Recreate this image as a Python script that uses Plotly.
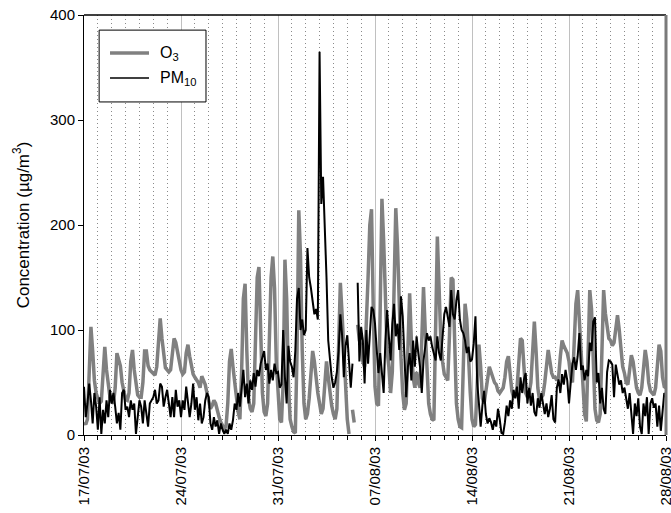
import pandas as pd
import plotly.graph_objects as go

# 3-hourly concentrations (00,03,...,21 h), one row per day, µg/m3
o3_week1 = [
    12, 10, 15, 55, 103, 80, 52, 40,      # 17/07
    34, 30, 32, 60, 84, 62, 45, 36,       # 18/07
    32, 30, 45, 78, 72, 66, 50, 42,       # 19/07
    34, 33, 40, 70, 81, 62, 48, 38,       # 20/07
    36, 36, 50, 80, 80, 66, 62, 60,       # 21/07
    58, 57, 65, 95, 111, 92, 75, 64,      # 22/07
    62, 60, 62, 75, 92, 88, 80, 68,       # 23/07
]
o3_week2 = [
    62, 58, 60, 78, 86, 75, 65, 58,       # 24/07
    55, 52, 50, 45, 56, 52, 48, 40,       # 25/07
    32, 25, 28, 33, 30, 22, 17, 12,       # 26/07
    8, 6, 8, 30, 70, 82, 65, 50,          # 27/07
    40, 22, 15, 60, 130, 144, 80, 35,     # 28/07
    25, 22, 30, 90, 150, 160, 100, 40,    # 29/07
    22, 18, 30, 80, 150, 170, 140, 70,    # 30/07
]
o3_week3 = [
    35, 15, 12, 50, 167, 130, 50, 15,     # 31/07
    8, 3, 2, 80, 214, 170, 80, 30,        # 01/08
    15, 20, 35, 60, 80, 70, 50, 40,       # 02/08
    30, 20, 25, 50, 70, 55, 40, 28,       # 03/08
    20, 15, 25, 80, 145, 115, 86, 45,     # 04/08
    15, 1, None, 24, 12, None, 105, 90,   # 05/08
    84, 70, 65, 100, 150, 200, 215, 120,  # 06/08
]
o3_week4 = [
    46, 30, 28, 120, 225, 185, 120, 80,   # 07/08
    65, 40, 60, 150, 216, 180, 110, 74,   # 08/08
    40, 24, 30, 80, 135, 90, 55, 45,      # 09/08
    60, 50, 45, 90, 141, 100, 60, 30,     # 10/08
    20, 15, 14, 110, 189, 140, 90, 70,    # 11/08
    58, 55, 52, 95, 150, 148, 90, 30,     # 12/08
    15, 8, 7, 60, 125, 110, 70, 40,       # 13/08
]
o3_week5 = [
    15, 8, 10, 45, 86, 65, 35, 30,        # 14/08
    40, 55, 65, 60, 55, 50, 48, 42,       # 15/08
    40, 42, 45, 55, 70, 75, 55, 42,       # 16/08
    36, 38, 45, 75, 92, 90, 60, 40,       # 17/08
    36, 40, 50, 85, 108, 80, 45, 33,      # 18/08
    36, 38, 50, 70, 81, 70, 59, 55,       # 19/08
    55, 52, 55, 75, 90, 85, 81, 78,       # 20/08
]
o3_week6 = [
    70, 55, 50, 85, 125, 138, 110, 85,    # 21/08
    45, 20, 13, 70, 138, 120, 60, 25,     # 22/08
    14, 12, 20, 75, 138, 116, 100, 92,    # 23/08
    90, 85, 88, 100, 114, 100, 81, 65,    # 24/08
    59, 50, 48, 62, 76, 70, 55, 45,       # 25/08
    40, 38, 45, 65, 81, 70, 50, 42,       # 26/08
    40, 38, 45, 70, 86, 80, 55, 46,       # 27/08
    45,                                   # 28/08 00h
]

pm10_week1 = [
    46, 17, 30, 49, 33, 11, 40, 27,
    5, 36, 1, 24, 11, 33, 17, 43,
    30, 40, 27, 11, 21, 5, 40, 43,
    24, 27, 17, 33, 24, 30, 1, 17,
    33, 27, 11, 33, 21, 8, 30, 33,
    36, 43, 30, 33, 49, 46, 27, 36,
    43, 30, 17, 36, 17, 43, 27, 33,
]
pm10_week2 = [
    17, 33, 24, 46, 33, 17, 30, 49,
    24, 36, 14, 30, 11, 17, 33, 40,
    36, 11, 5, 17, 8, 14, 1, 11,
    5, 1, 5, 1, 11, 5, 14, 30,
    24, 40, 27, 46, 62, 36, 49, 30,
    52, 43, 59, 46, 62, 56, 68, 74,
    80, 62, 68, 49, 62, 52, 68, 59,
]
pm10_week3 = [
    60, 45, 48, 100, 55, 30, 85, 70,
    65, 55, 80, 130, 140, 100, 110, 95,
    100, 178, 150, 140, 125, 115, 120, 110,
    365, 220, 246, 205, 150, 90, 70, 55,
    45, 50, 60, 80, 115, 95, 55, 85,
    95, 65, 45, 68, None, None, 145, 70,
    103, 90, 49, 100, 68, 94, 122, 119,
]
pm10_week4 = [
    106, 81, 59, 78, 60, 40, 90, 119,
    94, 71, 106, 125, 94, 106, 81, 132,
    113, 65, 36, 65, 78, 52, 90, 65,
    94, 78, 65, 40, 71, 84, 97, 90,
    94, 84, 78, 71, 94, 78, 71, 94,
    115, 122, 110, 103, 138, 115, 110, 128,
    138, 110, 100, 97, 90, 78, 84, 70,
]
pm10_week5 = [
    72, 87, 113, 50, 30, 8, 28, 42,
    20, 11, 16, 12, 5, 14, 8, 25,
    15, 2, 1, 12, 28, 18, 33, 25,
    43, 35, 46, 25, 55, 40, 53, 59,
    30, 45, 28, 40, 22, 18, 35, 26,
    40, 28, 20, 30, 17, 25, 38, 15,
    12, 45, 53, 40, 58, 48, 62, 52,
]
pm10_week6 = [
    30, 50, 68, 74, 62, 75, 97, 62,
    66, 52, 62, 56, 88, 80, 108, 112,
    50, 59, 30, 45, 25, 20, 60, 71,
    70, 67, 36, 67, 58, 48, 52, 40,
    45, 35, 25, 40, 20, 1, 30, 18,
    35, 8, 1, 30, 18, 36, 1, 30,
    35, 26, 30, 8, 28, 4, 22, 40,
    36,
]

series_names = ["O<sub>3</sub>", "PM<sub>10</sub>"]

o3 = o3_week1 + o3_week2 + o3_week3 + o3_week4 + o3_week5 + o3_week6
pm10 = pm10_week1 + pm10_week2 + pm10_week3 + pm10_week4 + pm10_week5 + pm10_week6
times = pd.date_range("2003-07-17 00:00", periods=len(o3), freq="3h")

FONT = "Liberation Sans, Arial, sans-serif"
DAY_MS = 86400000
O3_COLOR = "#808080"
PM_COLOR = "#000000"
O3_WIDTH = 3.5
PM_WIDTH = 2.0

fig = go.Figure()
fig.add_trace(go.Scatter(
    x=times, y=o3, mode="lines", name=series_names[0], showlegend=False,
    line=dict(color=O3_COLOR, width=O3_WIDTH), connectgaps=False,
))
fig.add_trace(go.Scatter(
    x=times, y=pm10, mode="lines", name=series_names[1], showlegend=False,
    line=dict(color=PM_COLOR, width=PM_WIDTH), connectgaps=False,
))

# Boxed key in the upper-left corner of the plotting area (paper coordinates)
key_box = dict(type="rect", xref="paper", yref="paper",
               x0=0.026, x1=0.2096, y0=0.793, y1=0.964,
               fillcolor="white", line=dict(color="black", width=1), layer="above")
key_rows = [(0.9095, O3_COLOR, O3_WIDTH), (0.85, PM_COLOR, 1.7)]
key_lines = [
    dict(type="line", xref="paper", yref="paper", x0=0.0447, x1=0.1117,
         y0=yy, y1=yy, line=dict(color=c, width=w), layer="above")
    for yy, c, w in key_rows
]
key_labels = [
    dict(xref="paper", yref="paper", x=0.127, y=yy, xanchor="left", yanchor="middle",
         text=name, showarrow=False, font=dict(family=FONT, size=16, color="black"))
    for (yy, _, _), name in zip(key_rows, series_names)
]

fig.update_layout(
    width=671, height=513,
    margin=dict(l=84, r=5, t=15, b=78),
    paper_bgcolor="white", plot_bgcolor="white",
    font=dict(family=FONT, size=14, color="black"),
    showlegend=False,
    shapes=[
        dict(type="line", xref="paper", yref="paper", x0=0, x1=1, y0=1, y1=1,
             line=dict(color="black", width=1.5)),
        dict(type="line", xref="paper", yref="paper", x0=1, x1=1, y0=0, y1=1,
             line=dict(color="#7a7a7a", width=3)),
        key_box,
    ] + key_lines,
    annotations=key_labels,
)

fig.update_xaxes(
    type="date",
    range=["2003-07-17 00:00", "2003-08-28 00:00:30"],
    tick0="2003-07-17", dtick=7 * DAY_MS,
    tickformat="%d/%m/%y", tickangle=-90,
    tickfont=dict(family=FONT, size=15),
    ticklabeloverflow="allow", automargin=False,
    ticks="outside", ticklen=5, tickcolor="black",
    showline=True, linecolor="black", linewidth=1,
    showgrid=True, gridcolor="#c0c0c0", gridwidth=1,
    zeroline=False,
    minor=dict(
        dtick=DAY_MS, tick0="2003-07-17",
        ticks="outside", ticklen=4, tickcolor="black",
        showgrid=True, gridcolor="#8a8a8a", griddash="1px,3px", gridwidth=1,
    ),
)
fig.update_yaxes(
    range=[0, 400], tick0=0, dtick=100,
    ticks="outside", ticklen=5, tickcolor="black",
    tickfont=dict(family=FONT, size=15),
    automargin=False,
    showline=True, linecolor="black", linewidth=1,
    showgrid=False, zeroline=False,
    title=dict(text="Concentration (µg/m<sup>3</sup>)",
               font=dict(family=FONT, size=17), standoff=16),
)

fig.write_html("out.html")
